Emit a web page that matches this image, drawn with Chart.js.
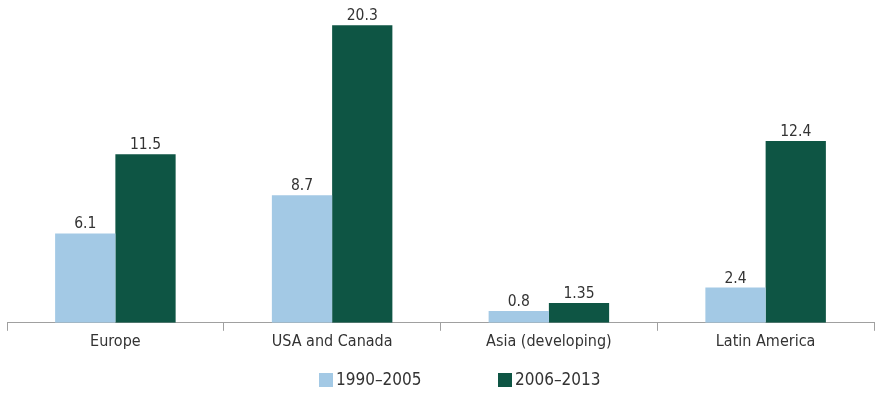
<!DOCTYPE html>
<html>
<head>
<meta charset="utf-8">
<script src="https://cdn.jsdelivr.net/npm/chart.js@4.4.0/dist/chart.umd.min.js"></script>
<style>
  html, body { margin: 0; padding: 0; background: #fff; }
  #wrap { width: 875px; height: 393px; position: relative; }
</style>
</head>
<body>
<div id="wrap"><canvas id="chart"></canvas></div>
<script>
// Regions and the two period series
const regions = ['Europe', 'USA and Canada', 'Asia (developing)', 'Latin America'];
const period1 = [6.1, 8.7, 0.8, 2.4];
const period2 = [11.5, 20.3, 1.35, 12.4];
const seriesNames = ['1990\u20132005', '2006\u20132013'];
const seriesColors = ['#a3c9e5', '#0e5544'];

const FONT = '"DejaVu Sans Condensed", "DejaVu Sans", sans-serif';
const TEXT = '#333333';

// Writes each bar's value just above it
const valueLabels = {
    id: 'valueLabels',
    afterDatasetsDraw(chart) {
        const ctx = chart.ctx;
        ctx.save();
        ctx.font = '15.5px ' + FONT;
        ctx.fillStyle = TEXT;
        ctx.textAlign = 'center';
        ctx.textBaseline = 'alphabetic';
        chart.data.datasets.forEach((ds, i) => {
            chart.getDatasetMeta(i).data.forEach((bar, j) => {
                ctx.fillText(String(ds.data[j]), bar.x, bar.y - 5);
            });
        });
        ctx.restore();
    }
};

// Legend row under the axis: small square, tight gap, then the series name
const bottomLegend = {
    id: 'bottomLegend',
    afterDraw(chart) {
        const ctx = chart.ctx;
        const box = 14;
        const starts = [319, 498];
        const cy = chart.height - 13;
        ctx.save();
        ctx.font = '17px ' + FONT;
        ctx.textBaseline = 'middle';
        ctx.textAlign = 'left';
        chart.data.datasets.forEach((ds, i) => {
            const x = starts[i];
            ctx.fillStyle = ds.backgroundColor;
            ctx.fillRect(x, cy - box / 2, box, box);
            ctx.fillStyle = TEXT;
            ctx.fillText(ds.label, x + box + 3, cy + 1);
        });
        ctx.restore();
    }
};

new Chart(document.getElementById('chart'), {
    type: 'bar',
    data: {
        labels: regions,
        datasets: [{
            label: seriesNames[0],
            data: period1,
            backgroundColor: seriesColors[0],
            categoryPercentage: 0.556,
            barPercentage: 1.0
        }, {
            label: seriesNames[1],
            data: period2,
            backgroundColor: seriesColors[1],
            categoryPercentage: 0.556,
            barPercentage: 1.0
        }]
    },
    options: {
        responsive: true,
        maintainAspectRatio: false,
        animation: false,
        layout: {
            padding: { top: 15, left: 7, right: 1, bottom: 41 }
        },
        plugins: {
            legend: { display: false },
            tooltip: { enabled: false }
        },
        scales: {
            x: {
                grid: {
                    offset: true,
                    drawOnChartArea: false,
                    drawTicks: true,
                    tickLength: 8,
                    color: '#a0a0a0'
                },
                border: { color: '#a0a0a0', width: 1 },
                ticks: {
                    color: TEXT,
                    font: { family: FONT, size: 16 },
                    padding: 1
                }
            },
            y: {
                display: false,
                min: 0,
                max: 21
            }
        }
    },
    plugins: [valueLabels, bottomLegend]
});
</script>
</body>
</html>
